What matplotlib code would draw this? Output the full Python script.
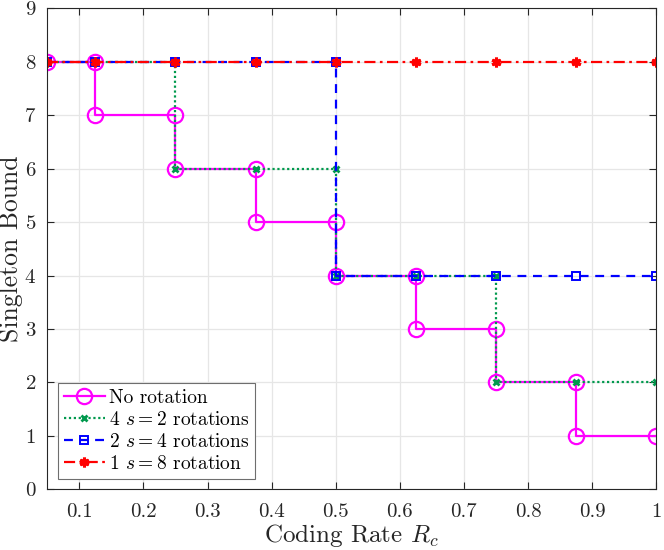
import matplotlib
matplotlib.use("Agg")
import matplotlib.pyplot as plt

plt.rcParams['font.family'] = ['cmr10', 'DejaVu Serif']
plt.rcParams['mathtext.fontset'] = 'cm'
plt.rcParams['axes.formatter.use_mathtext'] = True

# Data (staircase vertices)
x_norot = [0.05, 0.125, 0.125, 0.25, 0.25, 0.375, 0.375, 0.5, 0.5, 0.625, 0.625, 0.75, 0.75, 0.875, 0.875, 1.0]
y_norot = [8, 8, 7, 7, 6, 6, 5, 5, 4, 4, 3, 3, 2, 2, 1, 1]

x_s2 = [0.05, 0.125, 0.25, 0.25, 0.375, 0.5, 0.5, 0.625, 0.75, 0.75, 0.875, 1.0]
y_s2 = [8, 8, 8, 6, 6, 6, 4, 4, 4, 2, 2, 2]

x_s4 = [0.05, 0.125, 0.25, 0.375, 0.5, 0.5, 0.625, 0.75, 0.875, 1.0]
y_s4 = [8, 8, 8, 8, 8, 4, 4, 4, 4, 4]

x_s8 = [0.05, 0.125, 0.25, 0.375, 0.5, 0.625, 0.75, 0.875, 1.0]
y_s8 = [8, 8, 8, 8, 8, 8, 8, 8, 8]

labels = ['No rotation', r'4 $s=2$ rotations', r'2 $s=4$ rotations', r'1 $s=8$ rotation']
xticks = [0.1, 0.2, 0.3, 0.4, 0.5, 0.6, 0.7, 0.8, 0.9, 1]
xtick_labels = ['0.1', '0.2', '0.3', '0.4', '0.5', '0.6', '0.7', '0.8', '0.9', '1']
yticks = list(range(10))

fig = plt.figure(figsize=(6.64, 5.5), dpi=100)
ax = fig.add_axes([0.0712, 0.1104, 0.917, 0.8745])

ax.plot(x_norot, y_norot, color='#ff00ff', linestyle='-', linewidth=1.6,
        marker='o', markersize=11, markerfacecolor='none', markeredgewidth=1.6, label=labels[0])
ax.plot(x_s2, y_s2, color='#00994d', linestyle=(0, (1, 1.2)), linewidth=1.6,
        marker='x', markersize=5, markeredgewidth=2, label=labels[1])
ax.plot(x_s4, y_s4, color='#0000ff', linestyle=(0, (4, 3)), linewidth=1.6,
        marker='s', markersize=6, markerfacecolor='none', markeredgewidth=1.4, label=labels[2])
ax.plot(x_s8, y_s8, color='#ff0000', linestyle=(0, (5, 2, 1.2, 2)), linewidth=1.6,
        marker=(6, 2, 0), markersize=7, markeredgewidth=2.2, label=labels[3])

ax.set_xlim(0.05, 1.0)
ax.set_ylim(0, 9)
ax.set_xticks(xticks)
ax.set_xticklabels(xtick_labels)
ax.set_yticks(yticks)
ax.grid(True, color='#e6e6e6', linewidth=0.9)
ax.set_axisbelow(True)
ax.tick_params(direction='in', top=True, right=True, labelsize=15, length=5,
               width=0.8, colors='#262626')
ax.tick_params(axis='x', pad=10)
ax.tick_params(axis='y', pad=8)
for s in ax.spines.values():
    s.set_color('#262626')
    s.set_linewidth(0.8)

ax.set_xlabel(r'Coding Rate $R_c$', fontsize=18, color='#262626', labelpad=1)
ax.set_ylabel('Singleton Bound', fontsize=18.5, color='#262626')
ax.yaxis.set_label_coords(-0.040, 0.5)

leg = ax.legend(loc='lower left', bbox_to_anchor=(0.018, 0.022), fontsize=14,
                frameon=True, fancybox=False, framealpha=1, edgecolor='#6e6e6e',
                handlelength=2.1, handletextpad=0.2, borderpad=0.3, labelspacing=0.2,
                borderaxespad=0)
leg.get_frame().set_linewidth(0.8)

fig.savefig('out.png', dpi=100)
